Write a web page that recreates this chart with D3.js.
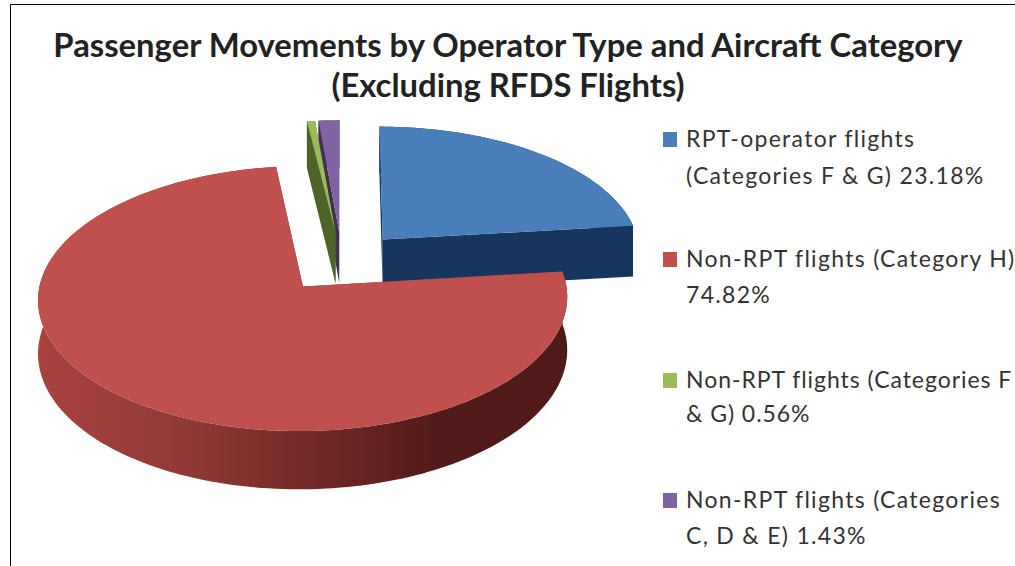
<!DOCTYPE html>
<html>
<head>
<meta charset="utf-8">
<script src="https://cdnjs.cloudflare.com/ajax/libs/d3/7.8.5/d3.min.js"></script>
<style>
  html, body { margin: 0; padding: 0; background: #fff; }
  text { font-family: Lato, "Open Sans", sans-serif; fill: #333; }
</style>
</head>
<body>
<div id="chart"></div>
<script>
const categories = ["RPT-operator flights", "Non-RPT flights (Category H)", "Non-RPT flights (Categories F & G)", "Non-RPT flights (Categories C, D & E)"];
const shares = [23.18, 74.82, 0.56, 1.43];
const legendLines = [
  ["RPT-operator flights", "(Categories F & G) 23.18%"],
  ["Non-RPT flights (Category H)", "74.82%"],
  ["Non-RPT flights (Categories F", "& G) 0.56%"],
  ["Non-RPT flights (Categories", "C, D & E) 1.43%"]
];
const titleLines = ["Passenger Movements by Operator Type and Aircraft Category", "(Excluding RFDS Flights)"];
const topColors = ["#4a7ebb", "#c0504d", "#9bbb59", "#8064a2"];
const wallColors = ["#17365d", "#8c3836", "#4f6228", "#3f3151"];

const width = 1015, height = 566;
const explode = 0.24, tilt = 0.09, depth = 52;

const svg = d3.select("#chart").append("svg")
  .attr("width", width)
  .attr("height", height)
  .style("display", "block");

// frame, only top and left like the screenshot
svg.append("path")
  .attr("d", "M10.5," + height + "V4.5H" + width)
  .attr("fill", "none")
  .attr("stroke", "#000")
  .attr("stroke-width", 1);

// side of the big slice goes from mid red to very dark
const defs = svg.append("defs");
const grad = defs.append("linearGradient")
  .attr("id", "redSide")
  .attr("gradientUnits", "userSpaceOnUse")
  .attr("x1", 38).attr("x2", 568).attr("y1", 0).attr("y2", 0);
[[0, "#a8423f"], [0.3, "#8f3835"], [0.55, "#6e2725"], [0.75, "#521b19"], [1, "#4f1a18"]]
  .forEach(function(s) { grad.append("stop").attr("offset", s[0]).attr("stop-color", s[1]); });

const x = d3.scaleLinear().domain([-1, 1]).range([342 - 259, 342 + 259]);
const y = d3.scaleLinear().domain([-1, 1]).range([262 + 127, 262 - 127]);

// ground plane to screen, with a bit of perspective
function project(u, v, drop) {
  const w = 1 + tilt * v;
  return [x(u / w), y(v / w) + drop / w];
}

const arcs = d3.pie().sort(null)(shares);
const line = d3.line();

const slices = arcs.map(function(a, i) {
  const mid = (a.startAngle + a.endAngle) / 2;
  const du = explode * Math.sin(mid), dv = explode * Math.cos(mid);
  const n = Math.max(2, Math.ceil((a.endAngle - a.startAngle) * 40));
  const angles = d3.range(n + 1).map(function(k) {
    return a.startAngle + (a.endAngle - a.startAngle) * k / n;
  });
  const edge = function(drop) {
    return angles.map(function(t) { return project(du + Math.sin(t), dv + Math.cos(t), drop); });
  };
  return { i: i, apex: project(du, dv, 0), apexLow: project(du, dv, depth), top: edge(0), low: edge(depth) };
});

// back to front: purple, green, blue, red
[3, 2, 0, 1].forEach(function(i) {
  const s = slices[i];
  const g = svg.append("g").attr("class", "slice");
  const first = 0, last = s.top.length - 1;
  // radial walls
  [first, last].forEach(function(k) {
    g.append("path")
      .attr("d", line([s.apex, s.top[k], s.low[k], s.apexLow]) + "Z")
      .attr("fill", wallColors[i]);
  });
  // outer rim
  g.append("path")
    .attr("d", line(s.top.concat(s.low.slice().reverse())) + "Z")
    .attr("fill", i === 1 ? "url(#redSide)" : wallColors[i]);
  // top face
  g.append("path")
    .attr("d", line([s.apex].concat(s.top)) + "Z")
    .attr("fill", topColors[i]);
});

const titleBaseline = [57, 97];

svg.selectAll("text.title")
  .data(titleLines)
  .join("text")
  .attr("class", "title")
  .attr("x", 508)
  .attr("y", function(d, i) { return titleBaseline[i]; })
  .attr("text-anchor", "middle")
  .style("font-size", "32.8px")
  .style("font-weight", 700)
  .style("fill", "#222")
  .text(function(d) { return d; });

const legendBaseline = [147, 267, 388, 508];
const legendGap = [37, 36, 34, 36];
const legendSpacing = [1.3, 1.3, 0.95, 1.3];

const legend = svg.selectAll("g.legend")
  .data(categories)
  .join("g")
  .attr("class", "legend");

legend.append("rect")
  .attr("x", 663)
  .attr("y", function(d, i) { return legendBaseline[i] - 15; })
  .attr("width", 14)
  .attr("height", 15)
  .attr("fill", function(d, i) { return topColors[i]; });

legend.each(function(d, i) {
  d3.select(this).selectAll("text")
    .data(legendLines[i])
    .join("text")
    .attr("x", 686)
    .attr("y", function(t, j) { return legendBaseline[i] + j * legendGap[i]; })
    .style("font-size", "23px")
    .style("letter-spacing", legendSpacing[i] + "px")
    .text(function(t) { return t; });
});
</script>
</body>
</html>
